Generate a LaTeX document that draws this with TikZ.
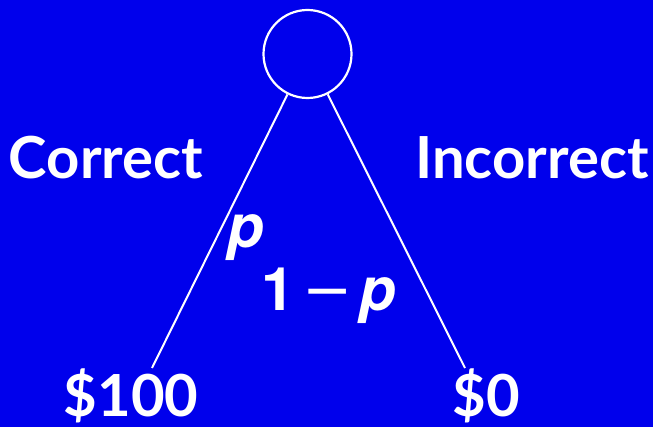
\documentclass[tikz,border=0pt]{standalone}
\usepackage{fontspec}
\setmainfont{Lato}
\newfontfamily\probfont{TeX Gyre Heros}
\newfontfamily\minusfont{DejaVu Sans}
\definecolor{slideblue}{RGB}{0,0,236}
\tikzset{
  outcome/.style={text=white,font=\fontsize{58}{64}\selectfont\bfseries,anchor=base,inner sep=0pt},
  prob/.style={text=white,font=\fontsize{60}{66}\selectfont\probfont\bfseries,anchor=base,inner sep=0pt},
  branch/.style={draw=white,line width=2pt}
}
\begin{document}
\begin{tikzpicture}[x=1pt,y=-1pt]
  \fill[slideblue] (0,0) rectangle (653,427);
  \useasboundingbox (0,0) rectangle (653,427);
  \node[circle,draw=white,line width=2.2pt,minimum size=88pt,inner sep=0pt] (chance) at (307.5,54) {};
  \coordinate (win) at (152,368);
  \coordinate (lose) at (465,368);
  \draw[branch] (chance) -- (win);
  \draw[branch] (chance) -- (lose);
  \node[outcome] (correct) at (106,179) {Correct};
  \node[outcome] (incorrect) at (532,179) {Incorrect};
  \node[prob] (pwin) at (246,248) {\itshape p};
  \node[prob] (plose) at (329,311) {1\hspace{0.12em}{\minusfont\mdseries\upshape −}\hspace{0.12em}\itshape p};
  \node[outcome] (payhi) at (131,416) {\$100};
  \node[outcome] (paylo) at (486,416) {\$0};
\end{tikzpicture}
\end{document}
